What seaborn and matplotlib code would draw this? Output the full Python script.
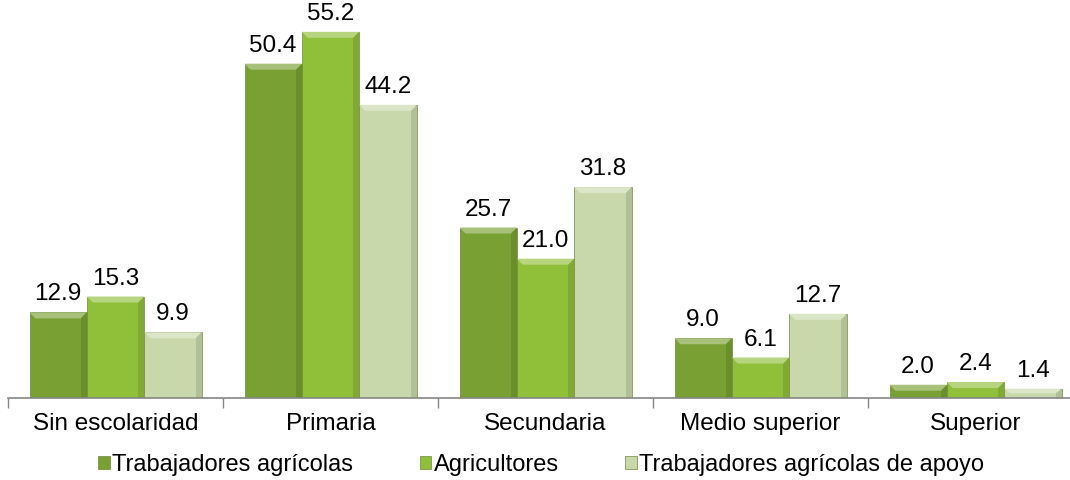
import pandas as pd
import seaborn as sns
import matplotlib.pyplot as plt
import matplotlib.colors as mcolors
from matplotlib.patches import Polygon

# Datos del gráfico
niveles = ['Sin escolaridad', 'Primaria', 'Secundaria', 'Medio superior', 'Superior']
grupos = ['Trabajadores agrícolas', 'Agricultores', 'Trabajadores agrícolas de apoyo']
trabajadores = [12.9, 50.4, 25.7, 9.0, 2.0]
agricultores = [15.3, 55.2, 21.0, 6.1, 2.4]
apoyo = [9.9, 44.2, 31.8, 12.7, 1.4]
colores = ['#78A032', '#90BF3A', '#C8D8AA']

df = pd.DataFrame({
    'Nivel': niveles * 3,
    'Grupo': [grupos[0]] * 5 + [grupos[1]] * 5 + [grupos[2]] * 5,
    'Valor': trabajadores + agricultores + apoyo,
})

sns.set_theme(style="white")
plt.rcParams['font.family'] = ['Liberation Sans', 'DejaVu Sans']

fig = plt.figure(figsize=(10.7, 4.8), dpi=100)
ax = fig.add_axes([8 / 1070, 82 / 480, 1075 / 1070, 398 / 480])

sns.barplot(data=df, x='Nivel', y='Valor', hue='Grupo', order=niveles, hue_order=grupos,
            palette=colores, saturation=1, width=0.8, edgecolor='#6E8A3A', linewidth=0.5,
            errorbar=None, ax=ax)

ax.set_ylim(0, 60)
ax.set_xlim(-0.5, 4.5)

# Efecto biselado sobre cada barra (a partir de la geometría de la barra)
px_x = 5.0 / 1075
px_y = 60.0 / 398
for cont, col in zip(ax.containers, colores):
    claro = tuple(c + (1 - c) * 0.35 for c in mcolors.to_rgb(col))
    oscuro = tuple(c * 0.82 for c in mcolors.to_rgb(col))
    for p in cont.patches:
        x0, w, h = p.get_x(), p.get_width(), p.get_height()
        bx = 6 * px_x
        by = min(6 * px_y, h / 2)
        # franja superior clara
        ax.add_patch(Polygon([(x0, h), (x0 + w, h), (x0 + w - bx, h - by), (x0 + bx, h - by)],
                             closed=True, facecolor=claro, edgecolor='none', zorder=3))
        # lado derecho oscuro
        ax.add_patch(Polygon([(x0 + w, h), (x0 + w, 0), (x0 + w - bx, 0), (x0 + w - bx, h - by)],
                             closed=True, facecolor=oscuro, edgecolor='none', zorder=3, alpha=0.6))

# Etiquetas de valores
for cont in ax.containers:
    ax.bar_label(cont, fmt='%.1f', padding=5, fontsize=17.5, color='black')

ax.set_yticks([])
ax.set_xlabel('')
ax.set_ylabel('')
for lado in ['top', 'right', 'left']:
    ax.spines[lado].set_visible(False)
ax.spines['bottom'].set_color('#868686')
ax.spines['bottom'].set_linewidth(1.2)
ax.spines['bottom'].set_zorder(5)

# Marcas entre categorías
ax.set_xticks([-0.5, 0.5, 1.5, 2.5, 3.5, 4.5], minor=True)
ax.tick_params(axis='x', which='minor', length=7, color='#868686', width=1, bottom=True)
ax.tick_params(axis='x', which='major', length=0, labelsize=17.5, pad=11, labelcolor='black')

ax.legend(loc='center', bbox_to_anchor=(0.496, -0.168), ncol=3, frameon=False,
          fontsize=17, handlelength=0.5, handleheight=0.5, handletextpad=0.1,
          columnspacing=2.8, labelcolor='black', borderpad=0)

fig.savefig('out.png', dpi=100)
